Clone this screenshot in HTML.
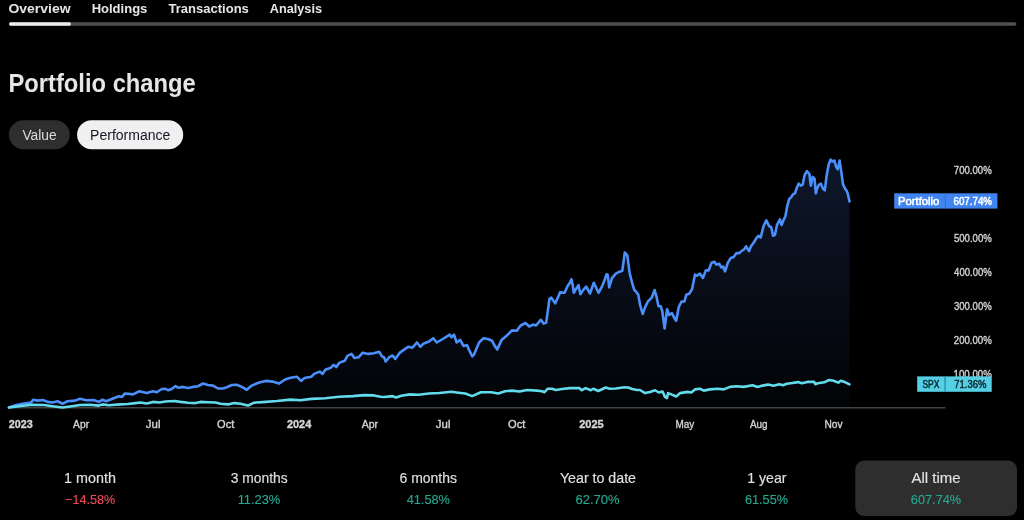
<!DOCTYPE html>
<html><head><meta charset="utf-8"><title>Portfolio change</title><style>
*{box-sizing:border-box;margin:0;padding:0}
html,body{width:1024px;height:520px;background:#000;overflow:hidden}
svg{position:absolute;left:0;top:0;display:block;will-change:transform}
text{font-family:"Liberation Sans","DejaVu Sans",sans-serif;white-space:pre}
</style></head><body>
<svg width="1024" height="520" viewBox="0 0 1024 520">
<defs><linearGradient id="g" x1="0" y1="159" x2="0" y2="408" gradientUnits="userSpaceOnUse"><stop offset="0" stop-color="rgb(14,23,43)"/><stop offset="1" stop-color="rgb(2,3,6)"/></linearGradient></defs>
<rect x="9" y="22.2" width="1007.5" height="3.6" rx="1.8" fill="#505050"/>
<rect x="9" y="22.2" width="62" height="3.6" rx="1.8" fill="#ececec"/>
<rect x="8.9" y="120.2" width="60.8" height="29" rx="14.5" fill="#2e2e2e"/>
<rect x="77.1" y="120.2" width="106.1" height="29" rx="14.5" fill="#f0f0f0"/>
<rect x="855.3" y="460.4" width="161.7" height="55.7" rx="9" fill="#2e2e2e"/>
<path d="M9.00,407.50 L16.25,405.00 L22.50,403.75 L31.25,402.50 L33.10,399.75 L37.50,400.60 L43.10,400.00 L47.50,401.90 L52.50,402.50 L57.50,401.25 L62.50,403.75 L67.50,401.25 L75.00,400.60 L80.00,398.75 L86.25,400.25 L93.75,400.00 L98.75,401.90 L102.50,399.75 L106.25,401.25 L112.50,398.75 L118.75,396.25 L121.90,396.90 L125.00,393.50 L128.00,393.75 L133.00,394.40 L139.25,391.25 L146.75,393.10 L153.00,391.25 L156.75,392.25 L161.75,389.00 L165.50,388.75 L168.00,390.25 L171.75,389.00 L175.50,386.00 L178.00,387.75 L183.00,386.90 L188.00,388.10 L193.00,386.90 L198.00,386.25 L203.00,383.50 L208.00,385.00 L213.00,385.60 L218.00,388.50 L223.00,388.50 L226.75,387.25 L231.75,385.00 L236.75,384.75 L241.75,386.90 L246.75,389.75 L251.75,385.60 L256.00,383.75 L260.20,382.25 L265.70,380.90 L272.60,381.60 L278.90,383.60 L285.10,379.50 L290.60,377.70 L296.90,376.70 L301.00,380.90 L304.50,378.10 L311.40,376.70 L314.20,373.90 L319.70,371.60 L322.50,373.90 L325.30,369.80 L330.80,367.70 L333.60,364.90 L336.30,367.00 L339.10,362.90 L344.70,360.80 L347.40,355.90 L351.60,353.90 L354.40,358.00 L358.50,357.30 L362.70,352.70 L368.20,353.90 L373.70,353.20 L379.30,351.80 L382.10,356.60 L384.00,357.20 L385.70,361.50 L389.20,357.20 L392.60,355.50 L395.20,358.90 L399.60,352.90 L404.80,349.10 L408.20,346.80 L412.50,347.70 L416.90,342.50 L420.30,346.80 L423.80,343.40 L429.00,341.60 L433.30,338.20 L436.80,342.50 L442.80,339.00 L449.70,334.70 L451.50,337.30 L454.00,334.70 L456.70,342.50 L460.10,339.90 L463.60,346.00 L467.00,345.10 L468.80,349.40 L472.20,356.30 L474.00,354.60 L479.10,342.50 L483.50,338.20 L487.80,339.00 L492.10,340.80 L494.70,345.90 L497.30,349.40 L501.60,339.90 L506.80,335.60 L512.00,330.40 L516.80,330.70 L520.60,325.50 L525.50,323.00 L529.30,326.50 L533.10,324.60 L536.00,325.50 L540.80,319.80 L543.70,323.60 L546.20,322.60 L549.50,298.60 L551.40,297.70 L555.20,303.40 L559.10,294.80 L560.00,292.40 L564.60,292.80 L567.70,285.80 L569.60,283.20 L571.40,279.30 L572.70,285.10 L573.80,292.80 L576.50,288.20 L578.50,285.10 L580.40,294.30 L583.10,290.10 L586.20,286.60 L590.00,293.50 L593.80,282.80 L598.50,292.80 L601.90,286.60 L604.60,280.10 L606.50,274.30 L607.70,274.70 L609.20,287.40 L612.00,278.20 L615.80,273.60 L619.60,271.70 L622.30,270.80 L624.80,252.50 L627.30,255.40 L629.60,272.70 L632.50,284.20 L634.40,290.00 L636.30,291.90 L638.30,294.80 L640.20,305.40 L642.70,314.00 L645.00,307.30 L647.90,301.50 L649.80,299.60 L651.70,297.70 L654.60,290.00 L656.50,296.70 L658.50,306.30 L660.80,306.30 L662.30,311.20 L664.60,328.50 L667.10,309.20 L669.00,315.00 L671.90,313.10 L674.80,318.80 L676.20,320.80 L678.70,307.30 L681.50,301.50 L684.40,301.50 L686.30,294.80 L689.20,293.80 L692.10,289.00 L695.00,274.60 L696.90,275.60 L700.00,273.70 L702.90,278.00 L705.80,270.40 L708.70,270.40 L711.50,262.70 L714.40,261.70 L716.30,264.60 L719.20,263.70 L721.20,267.50 L723.10,266.50 L725.00,271.30 L727.90,262.70 L730.80,257.90 L733.70,256.90 L736.50,253.10 L739.40,253.10 L741.30,251.20 L744.20,249.20 L746.20,246.30 L749.00,251.20 L751.00,246.30 L753.80,242.50 L756.70,237.70 L758.70,235.80 L760.60,237.70 L763.50,226.20 L766.30,220.40 L769.20,226.20 L771.20,227.10 L773.10,235.80 L775.00,234.80 L776.90,225.20 L780.00,219.40 L781.50,225.00 L783.50,220.20 L785.40,216.30 L787.30,205.80 L789.20,199.00 L791.20,197.10 L793.10,194.20 L795.00,193.30 L796.90,187.50 L798.80,183.70 L800.80,185.60 L802.70,184.60 L804.60,175.00 L806.90,171.20 L809.40,174.00 L810.80,185.60 L812.70,176.90 L814.60,178.80 L815.80,193.30 L817.10,188.50 L819.00,184.60 L821.00,183.70 L822.90,188.50 L824.80,190.40 L826.70,175.00 L828.70,164.40 L830.60,159.60 L832.50,161.50 L834.40,160.60 L836.30,167.30 L837.70,169.20 L839.60,160.60 L841.20,171.20 L843.10,184.60 L845.00,188.50 L846.90,191.30 L847.90,194.20 L849.50,201.40 L849.50,408 L9.00,408 Z" fill="url(#g)"/>
<line x1="9" y1="407.8" x2="945.5" y2="407.8" stroke="#444444" stroke-width="1.4"/>
<polyline points="9.00,407.50 16.25,405.00 22.50,403.75 31.25,402.50 33.10,399.75 37.50,400.60 43.10,400.00 47.50,401.90 52.50,402.50 57.50,401.25 62.50,403.75 67.50,401.25 75.00,400.60 80.00,398.75 86.25,400.25 93.75,400.00 98.75,401.90 102.50,399.75 106.25,401.25 112.50,398.75 118.75,396.25 121.90,396.90 125.00,393.50 128.00,393.75 133.00,394.40 139.25,391.25 146.75,393.10 153.00,391.25 156.75,392.25 161.75,389.00 165.50,388.75 168.00,390.25 171.75,389.00 175.50,386.00 178.00,387.75 183.00,386.90 188.00,388.10 193.00,386.90 198.00,386.25 203.00,383.50 208.00,385.00 213.00,385.60 218.00,388.50 223.00,388.50 226.75,387.25 231.75,385.00 236.75,384.75 241.75,386.90 246.75,389.75 251.75,385.60 256.00,383.75 260.20,382.25 265.70,380.90 272.60,381.60 278.90,383.60 285.10,379.50 290.60,377.70 296.90,376.70 301.00,380.90 304.50,378.10 311.40,376.70 314.20,373.90 319.70,371.60 322.50,373.90 325.30,369.80 330.80,367.70 333.60,364.90 336.30,367.00 339.10,362.90 344.70,360.80 347.40,355.90 351.60,353.90 354.40,358.00 358.50,357.30 362.70,352.70 368.20,353.90 373.70,353.20 379.30,351.80 382.10,356.60 384.00,357.20 385.70,361.50 389.20,357.20 392.60,355.50 395.20,358.90 399.60,352.90 404.80,349.10 408.20,346.80 412.50,347.70 416.90,342.50 420.30,346.80 423.80,343.40 429.00,341.60 433.30,338.20 436.80,342.50 442.80,339.00 449.70,334.70 451.50,337.30 454.00,334.70 456.70,342.50 460.10,339.90 463.60,346.00 467.00,345.10 468.80,349.40 472.20,356.30 474.00,354.60 479.10,342.50 483.50,338.20 487.80,339.00 492.10,340.80 494.70,345.90 497.30,349.40 501.60,339.90 506.80,335.60 512.00,330.40 516.80,330.70 520.60,325.50 525.50,323.00 529.30,326.50 533.10,324.60 536.00,325.50 540.80,319.80 543.70,323.60 546.20,322.60 549.50,298.60 551.40,297.70 555.20,303.40 559.10,294.80 560.00,292.40 564.60,292.80 567.70,285.80 569.60,283.20 571.40,279.30 572.70,285.10 573.80,292.80 576.50,288.20 578.50,285.10 580.40,294.30 583.10,290.10 586.20,286.60 590.00,293.50 593.80,282.80 598.50,292.80 601.90,286.60 604.60,280.10 606.50,274.30 607.70,274.70 609.20,287.40 612.00,278.20 615.80,273.60 619.60,271.70 622.30,270.80 624.80,252.50 627.30,255.40 629.60,272.70 632.50,284.20 634.40,290.00 636.30,291.90 638.30,294.80 640.20,305.40 642.70,314.00 645.00,307.30 647.90,301.50 649.80,299.60 651.70,297.70 654.60,290.00 656.50,296.70 658.50,306.30 660.80,306.30 662.30,311.20 664.60,328.50 667.10,309.20 669.00,315.00 671.90,313.10 674.80,318.80 676.20,320.80 678.70,307.30 681.50,301.50 684.40,301.50 686.30,294.80 689.20,293.80 692.10,289.00 695.00,274.60 696.90,275.60 700.00,273.70 702.90,278.00 705.80,270.40 708.70,270.40 711.50,262.70 714.40,261.70 716.30,264.60 719.20,263.70 721.20,267.50 723.10,266.50 725.00,271.30 727.90,262.70 730.80,257.90 733.70,256.90 736.50,253.10 739.40,253.10 741.30,251.20 744.20,249.20 746.20,246.30 749.00,251.20 751.00,246.30 753.80,242.50 756.70,237.70 758.70,235.80 760.60,237.70 763.50,226.20 766.30,220.40 769.20,226.20 771.20,227.10 773.10,235.80 775.00,234.80 776.90,225.20 780.00,219.40 781.50,225.00 783.50,220.20 785.40,216.30 787.30,205.80 789.20,199.00 791.20,197.10 793.10,194.20 795.00,193.30 796.90,187.50 798.80,183.70 800.80,185.60 802.70,184.60 804.60,175.00 806.90,171.20 809.40,174.00 810.80,185.60 812.70,176.90 814.60,178.80 815.80,193.30 817.10,188.50 819.00,184.60 821.00,183.70 822.90,188.50 824.80,190.40 826.70,175.00 828.70,164.40 830.60,159.60 832.50,161.50 834.40,160.60 836.30,167.30 837.70,169.20 839.60,160.60 841.20,171.20 843.10,184.60 845.00,188.50 846.90,191.30 847.90,194.20 849.50,201.40" fill="none" stroke="#4a8ffb" stroke-width="2.6" stroke-linejoin="round" stroke-linecap="round"/>
<polyline points="9.00,407.50 18.75,406.25 32.50,404.75 43.75,405.00 52.50,406.25 62.50,407.50 70.00,406.50 80.00,405.00 90.00,404.75 98.75,405.60 102.50,404.40 108.75,405.25 120.00,404.40 128.00,404.00 135.50,403.10 140.50,402.50 146.75,403.50 153.00,401.90 159.25,402.50 165.50,401.50 174.25,401.00 180.50,401.90 188.00,402.75 195.50,403.10 200.50,401.90 208.00,402.25 215.50,402.50 220.50,403.75 228.00,404.40 234.25,403.10 240.50,403.75 248.00,405.60 253.00,403.10 256.00,402.50 262.90,402.10 276.80,401.00 290.60,399.60 300.30,400.30 311.40,398.90 325.30,398.20 339.10,396.80 353.00,396.10 364.00,395.10 373.70,395.40 380.70,396.80 384.00,397.00 392.60,396.10 396.10,397.50 401.30,395.80 410.00,394.40 418.60,394.70 429.00,393.50 439.40,393.00 451.50,391.80 458.40,392.70 465.30,393.50 472.20,396.10 480.90,392.30 491.20,392.30 498.20,393.50 505.10,391.30 512.00,390.60 519.50,391.50 527.00,390.00 537.00,390.60 542.00,391.25 544.50,392.25 547.60,388.75 552.00,388.75 555.75,390.00 562.00,389.00 569.50,388.10 579.50,388.10 581.40,390.25 585.75,388.10 590.75,390.25 593.25,388.75 598.25,391.00 605.75,387.50 609.50,388.75 615.75,388.50 624.50,387.25 628.25,387.50 632.00,389.00 637.00,390.00 640.00,390.00 645.00,393.10 650.00,391.90 655.00,390.25 658.75,392.50 662.50,391.50 665.00,396.90 666.90,398.10 668.10,393.10 671.25,394.40 676.25,396.50 680.00,393.10 687.50,391.90 691.25,392.50 695.00,389.40 700.00,388.75 703.75,390.60 710.00,389.40 717.50,388.75 723.75,389.40 730.00,386.90 736.25,386.25 743.75,386.90 752.50,385.25 757.50,386.90 762.50,385.60 768.00,384.60 773.60,385.80 779.25,384.20 783.00,385.20 786.75,383.75 792.40,383.00 798.00,382.10 801.75,383.30 807.40,381.90 814.00,381.70 815.30,384.20 817.70,383.30 824.25,382.30 829.00,380.00 833.60,380.75 838.30,382.60 840.70,380.75 844.90,382.10 849.50,384.30" fill="none" stroke="#62dcec" stroke-width="2.6" stroke-linejoin="round" stroke-linecap="round"/>
<text transform="translate(8.44,13.10) scale(1.0550,1)" font-size="13.241" font-weight="bold" fill="#e6e6e6">Overview</text>
<text transform="translate(91.65,13.10) scale(0.9637,1)" font-size="13.517" font-weight="bold" fill="#e6e6e6">Holdings</text>
<text transform="translate(168.47,13.10) scale(0.9855,1)" font-size="13.241" font-weight="bold" fill="#e6e6e6">Transactions</text>
<text transform="translate(269.75,13.10) scale(0.9605,1)" font-size="13.241" font-weight="bold" fill="#e6e6e6">Analysis</text>
<text transform="translate(8.46,92.00) scale(0.9509,1)" font-size="24.966" font-weight="bold" fill="#e6e6e6">Portfolio change</text>
<text transform="translate(22.40,140.40) scale(0.9779,1)" font-size="14.069" fill="#dcdcdc">Value</text>
<text transform="translate(90.08,140.40) scale(0.9970,1)" font-size="14.069" fill="#131722">Performance</text>
<text transform="translate(953.82,173.60) scale(0.9233,1)" font-size="10.429" fill="#d4d4d4" stroke="#d4d4d4" stroke-width="0.35">700.00%</text>
<text transform="translate(953.92,241.75) scale(0.9209,1)" font-size="10.429" fill="#d4d4d4" stroke="#d4d4d4" stroke-width="0.35">500.00%</text>
<text transform="translate(954.11,275.82) scale(0.9162,1)" font-size="10.429" fill="#d4d4d4" stroke="#d4d4d4" stroke-width="0.35">400.00%</text>
<text transform="translate(953.96,309.90) scale(0.9197,1)" font-size="10.429" fill="#d4d4d4" stroke="#d4d4d4" stroke-width="0.35">300.00%</text>
<text transform="translate(953.82,343.97) scale(0.9233,1)" font-size="10.429" fill="#d4d4d4" stroke="#d4d4d4" stroke-width="0.35">200.00%</text>
<text transform="translate(953.57,378.05) scale(0.9293,1)" font-size="10.429" fill="#d4d4d4" stroke="#d4d4d4" stroke-width="0.35">100.00%</text>
<text transform="translate(8.68,427.80) scale(1.0189,1)" font-size="10.571" font-weight="bold" fill="#d4d4d4" stroke="#d4d4d4" stroke-width="0.35">2023</text>
<text transform="translate(73.10,427.80) scale(0.9607,1)" font-size="10.725" fill="#d4d4d4" stroke="#d4d4d4" stroke-width="0.35">Apr</text>
<text transform="translate(145.83,427.80) scale(1.1215,1)" font-size="10.207" fill="#d4d4d4" stroke="#d4d4d4" stroke-width="0.35">Jul</text>
<text transform="translate(217.00,427.80) scale(1.0508,1)" font-size="10.571" fill="#d4d4d4" stroke="#d4d4d4" stroke-width="0.35">Oct</text>
<text transform="translate(286.92,427.80) scale(1.0350,1)" font-size="10.571" font-weight="bold" fill="#d4d4d4" stroke="#d4d4d4" stroke-width="0.35">2024</text>
<text transform="translate(361.75,427.80) scale(0.9819,1)" font-size="10.725" fill="#d4d4d4" stroke="#d4d4d4" stroke-width="0.35">Apr</text>
<text transform="translate(435.83,427.80) scale(1.1215,1)" font-size="10.207" fill="#d4d4d4" stroke="#d4d4d4" stroke-width="0.35">Jul</text>
<text transform="translate(508.00,427.80) scale(1.0508,1)" font-size="10.571" fill="#d4d4d4" stroke="#d4d4d4" stroke-width="0.35">Oct</text>
<text transform="translate(579.17,427.80) scale(1.0470,1)" font-size="10.571" font-weight="bold" fill="#d4d4d4" stroke="#d4d4d4" stroke-width="0.35">2025</text>
<text transform="translate(675.45,427.80) scale(0.9277,1)" font-size="10.725" fill="#d4d4d4" stroke="#d4d4d4" stroke-width="0.35">May</text>
<text transform="translate(750.00,427.80) scale(0.9226,1)" font-size="10.725" fill="#d4d4d4" stroke="#d4d4d4" stroke-width="0.35">Aug</text>
<text transform="translate(824.44,427.80) scale(0.9471,1)" font-size="10.725" fill="#d4d4d4" stroke="#d4d4d4" stroke-width="0.35">Nov</text>
<text transform="translate(64.12,483.40) scale(1.0200,1)" font-size="14.069" fill="#e0e0e0" stroke="#e0e0e0" stroke-width="0.15">1 month</text>
<text transform="translate(65.03,503.95) scale(0.9836,1)" font-size="12.837" fill="#ef4a57" stroke="#ef4a57" stroke-width="0.15">−14.58%</text>
<text transform="translate(230.82,483.40) scale(0.9809,1)" font-size="14.069" fill="#e0e0e0" stroke="#e0e0e0" stroke-width="0.15">3 months</text>
<text transform="translate(237.63,503.95) scale(0.9957,1)" font-size="12.929" fill="#26a891" stroke="#26a891" stroke-width="0.15">11.23%</text>
<text transform="translate(399.50,483.40) scale(0.9934,1)" font-size="14.069" fill="#e0e0e0" stroke="#e0e0e0" stroke-width="0.15">6 months</text>
<text transform="translate(406.64,503.95) scale(0.9967,1)" font-size="12.837" fill="#26a891" stroke="#26a891" stroke-width="0.15">41.58%</text>
<text transform="translate(559.92,483.40) scale(1.0107,1)" font-size="14.069" fill="#e0e0e0" stroke="#e0e0e0" stroke-width="0.15">Year to date</text>
<text transform="translate(575.55,503.95) scale(1.0033,1)" font-size="12.929" fill="#26a891" stroke="#26a891" stroke-width="0.15">62.70%</text>
<text transform="translate(747.14,483.40) scale(0.9577,1)" font-size="14.783" fill="#e0e0e0" stroke="#e0e0e0" stroke-width="0.15">1 year</text>
<text transform="translate(744.97,503.95) scale(0.9822,1)" font-size="12.929" fill="#26a891" stroke="#26a891" stroke-width="0.15">61.55%</text>
<text transform="translate(911.50,483.40) scale(1.0649,1)" font-size="14.069" fill="#e0e0e0" stroke="#e0e0e0" stroke-width="0.15">All time</text>
<text transform="translate(910.86,503.95) scale(0.9870,1)" font-size="12.929" fill="#26a891" stroke="#26a891" stroke-width="0.15">607.74%</text>
<rect x="894.2" y="193.3" width="103.2" height="15.3" fill="#3f84f0"/>
<rect x="944.8" y="193.3" width="1.1" height="15.3" fill="#2f6fd0"/>
<rect x="917.2" y="376.4" width="74.5" height="15.4" fill="#54cfe4"/>
<rect x="944.4" y="376.4" width="1.3" height="15.4" fill="#2090a8"/>
<text transform="translate(897.89,204.80) scale(1.1103,1)" font-size="10.207" fill="#ffffff" stroke="#ffffff" stroke-width="0.5">Portfolio</text>
<text transform="translate(953.51,204.80) scale(0.9230,1)" font-size="10.571" fill="#ffffff" stroke="#ffffff" stroke-width="0.5">607.74%</text>
<text transform="translate(922.42,387.80) scale(0.8058,1)" font-size="10.496" fill="#0b2e36" stroke="#0b2e36" stroke-width="0.5">SPX</text>
<text transform="translate(954.23,387.80) scale(0.8981,1)" font-size="10.571" fill="#0b2e36" stroke="#0b2e36" stroke-width="0.5">71.36%</text>
</svg>
</body></html>
